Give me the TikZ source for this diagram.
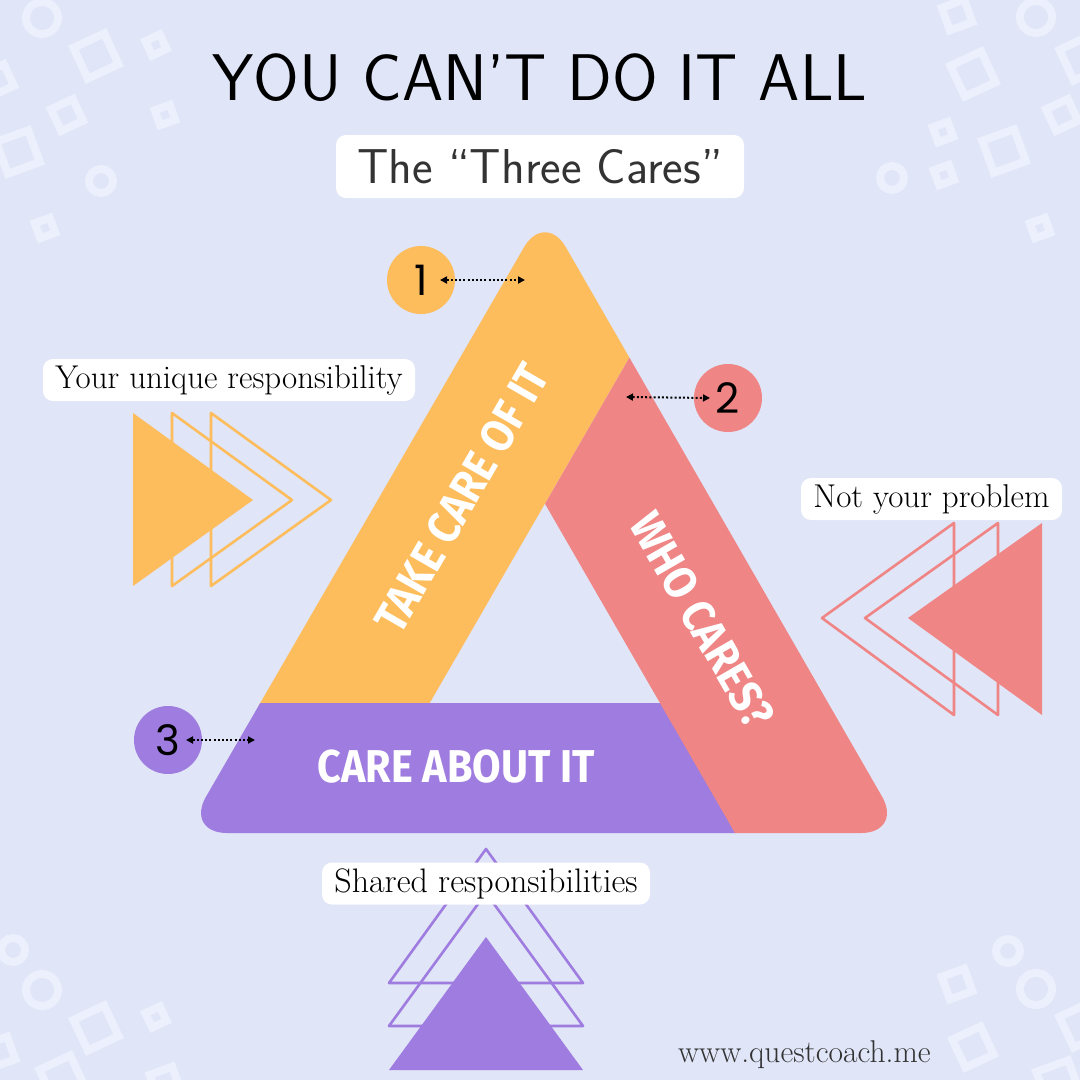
\documentclass[tikz,border=0pt]{standalone}
\usepackage{fontspec}
\usepackage{graphicx}
\newfontfamily\bandfont{Fira Sans}
\newfontfamily\numfont{Poppins}
\definecolor{bgblue}{RGB}{224, 229, 247}
\definecolor{decoblue}{RGB}{236, 239, 252}
\definecolor{careorange}{RGB}{253, 189, 93}
\definecolor{carepink}{RGB}{239, 133, 133}
\definecolor{carepurple}{RGB}{159, 124, 223}
\definecolor{subgray}{RGB}{51, 51, 51}
\usetikzlibrary{arrows.meta, positioning, calc}
\tikzset{
	deco/.style={draw=decoblue, line width=8pt},
	band/.style={rounded corners=42pt},
	bandtext/.style={text=white, font=\bandfont\bfseries\fontsize{46}{50}\selectfont},
	tag/.style={rectangle, rounded corners=10pt, fill=white, inner sep=0pt, minimum height=42pt, font=\fontsize{33}{36}\selectfont},
	num/.style={circle, inner sep=0pt, minimum size=68pt, font=\numfont\fontsize{42}{46}\selectfont},
	pointer/.style={{Triangle[length=7pt,width=7pt]}-{Triangle[length=7pt,width=7pt]}, line width=2pt, dash pattern=on 2pt off 2.2pt},
	outline/.style={line width=2.6pt, line join=round},
}

\begin{document}
\begin{tikzpicture}[x=1pt, y=-1pt]
	\fill[bgblue] (0,0) rectangle (1080,1080);
	\useasboundingbox (0,0) rectangle (1080,1080);
	% background squares and rings
	\foreach \x/\y/\s/\a in {96/56/34/25, 156/45/16/25, 67/115/24/25, 18/152/34/20, 165/115/16/20, 45/228/16/20, -2/80/24/25,
		957/15/24/20, 973/74/34/25, 1062/115/24/25, 943/132/16/20, 1004/151/34/20, 944/175/16/20, 1040/228/16/20, 1082/58/34/25,
		96/1028/34/25, 156/1017/16/25, 62/1078/34/25, 165/1082/24/20, 0/1052/24/20,
		957/984/24/20, 973/1047/31/25, 1082/1025/34/25, 1058/1082/34/20} {
		\draw[deco, rotate around={\a:(\x,\y)}] ({\x-\s/2},{\y-\s/2}) rectangle ({\x+\s/2},{\y+\s/2});
	}
	\foreach \x/\y/\r in {42/18/16, 101/181/12, 1036/17/16, 892/178/12, 13/950/12, 42/990/16, 1008/951/12, 1036/989/16} {
		\draw[deco] (\x,\y) circle[radius=\r];
	}
	% side triangles
	\fill[careorange] (133,413) -- (253,500) -- (133,586) -- cycle;
	\draw[careorange, outline] (172,413) -- (292,500) -- (172,586) -- cycle;
	\draw[careorange, outline] (211,413) -- (331,500) -- (211,586) -- cycle;
	\fill[carepink] (1042,523) -- (908,618) -- (1042,715) -- cycle;
	\draw[carepink, outline] (998,523) -- (865,618) -- (998,715) -- cycle;
	\draw[carepink, outline] (954,523) -- (822,618) -- (954,715) -- cycle;
	\fill[carepurple] (389,1070) -- (486,937) -- (583,1070) -- cycle;
	\draw[carepurple, outline] (389,1026) -- (486,893) -- (583,1026) -- cycle;
	\draw[carepurple, outline] (389,983) -- (486,849) -- (583,983) -- cycle;
	% the three bands
	\coordinate (apex) at (545,211);
	\coordinate (bl) at (185,833);
	\coordinate (br) at (903,833);
	\begin{scope}
		\clip (0,706) -- (428,706) -- (778.2,100) -- (0,100) -- cycle;
		\fill[careorange, band] ($(bl)!0.5!(br)$) -- (br) -- (apex) -- (bl) -- cycle;
	\end{scope}
	\begin{scope}
		\clip (0,703) -- (661,703) -- (774.7,900) -- (0,900) -- cycle;
		\fill[carepurple, band] ($(bl)!0.5!(br)$) -- (br) -- (apex) -- (bl) -- cycle;
	\end{scope}
	\begin{scope}
		\clip (778.2,100) -- (545,503.8) -- (773.7,900) -- (1000,900) -- (1000,100) -- cycle;
		\fill[carepink, band] ($(bl)!0.5!(br)$) -- (br) -- (apex) -- (bl) -- cycle;
	\end{scope}
	\node[bandtext, rotate=60] (take) at (462,498) {\scalebox{0.9}[1]{TAKE CARE OF IT}};
	\node[bandtext, rotate=-60] (who) at (702,620) {\scalebox{0.9}[1]{WHO CARES?}};
	\node[bandtext] (about) at (456,767) {\scalebox{0.9}[1]{CARE ABOUT IT}};
	% numbers
	\node[num, fill=careorange] (n1) at (421,280) {1};
	\node[num, fill=carepink] (n2) at (728,398) {2};
	\node[num, fill=carepurple] (n3) at (168,740) {3};
	\coordinate (t1) at (525,280);
	\coordinate (t2) at (626,397);
	\coordinate (t3) at (255,740);
	\draw[pointer] ([xshift=19pt]n1.center) -- (t1);
	\draw[pointer] (t2) -- ([xshift=-18pt]n2.center);
	\draw[pointer] ([xshift=18pt]n3.center) -- (t3);
	% labels
	\node[tag, minimum width=372pt] (tagmine) at (229,380) {Your unique responsibility};
	\node[tag, minimum width=261pt] (tagnot) at (931.5,499) {Not your problem};
	\node[tag, minimum width=328pt, font=\fontsize{34}{37}\selectfont] (tagshared) at (486,883.5) {Shared responsibilities};
	\node[font=\sffamily\fontsize{66}{70}\selectfont] (title) at (540,78) {YOU CAN’T DO IT ALL};
	\node[tag, minimum width=408pt, minimum height=63pt, font=\sffamily\fontsize{49}{53}\selectfont, text=subgray] (subtitle) at (540,166.5) {The “Three Cares”};
	\node[anchor=base west, font=\fontsize{31.5}{34}\selectfont, text=subgray, inner sep=0pt] (site) at (678,1062) {www.questcoach.me};
\end{tikzpicture}
\end{document}
